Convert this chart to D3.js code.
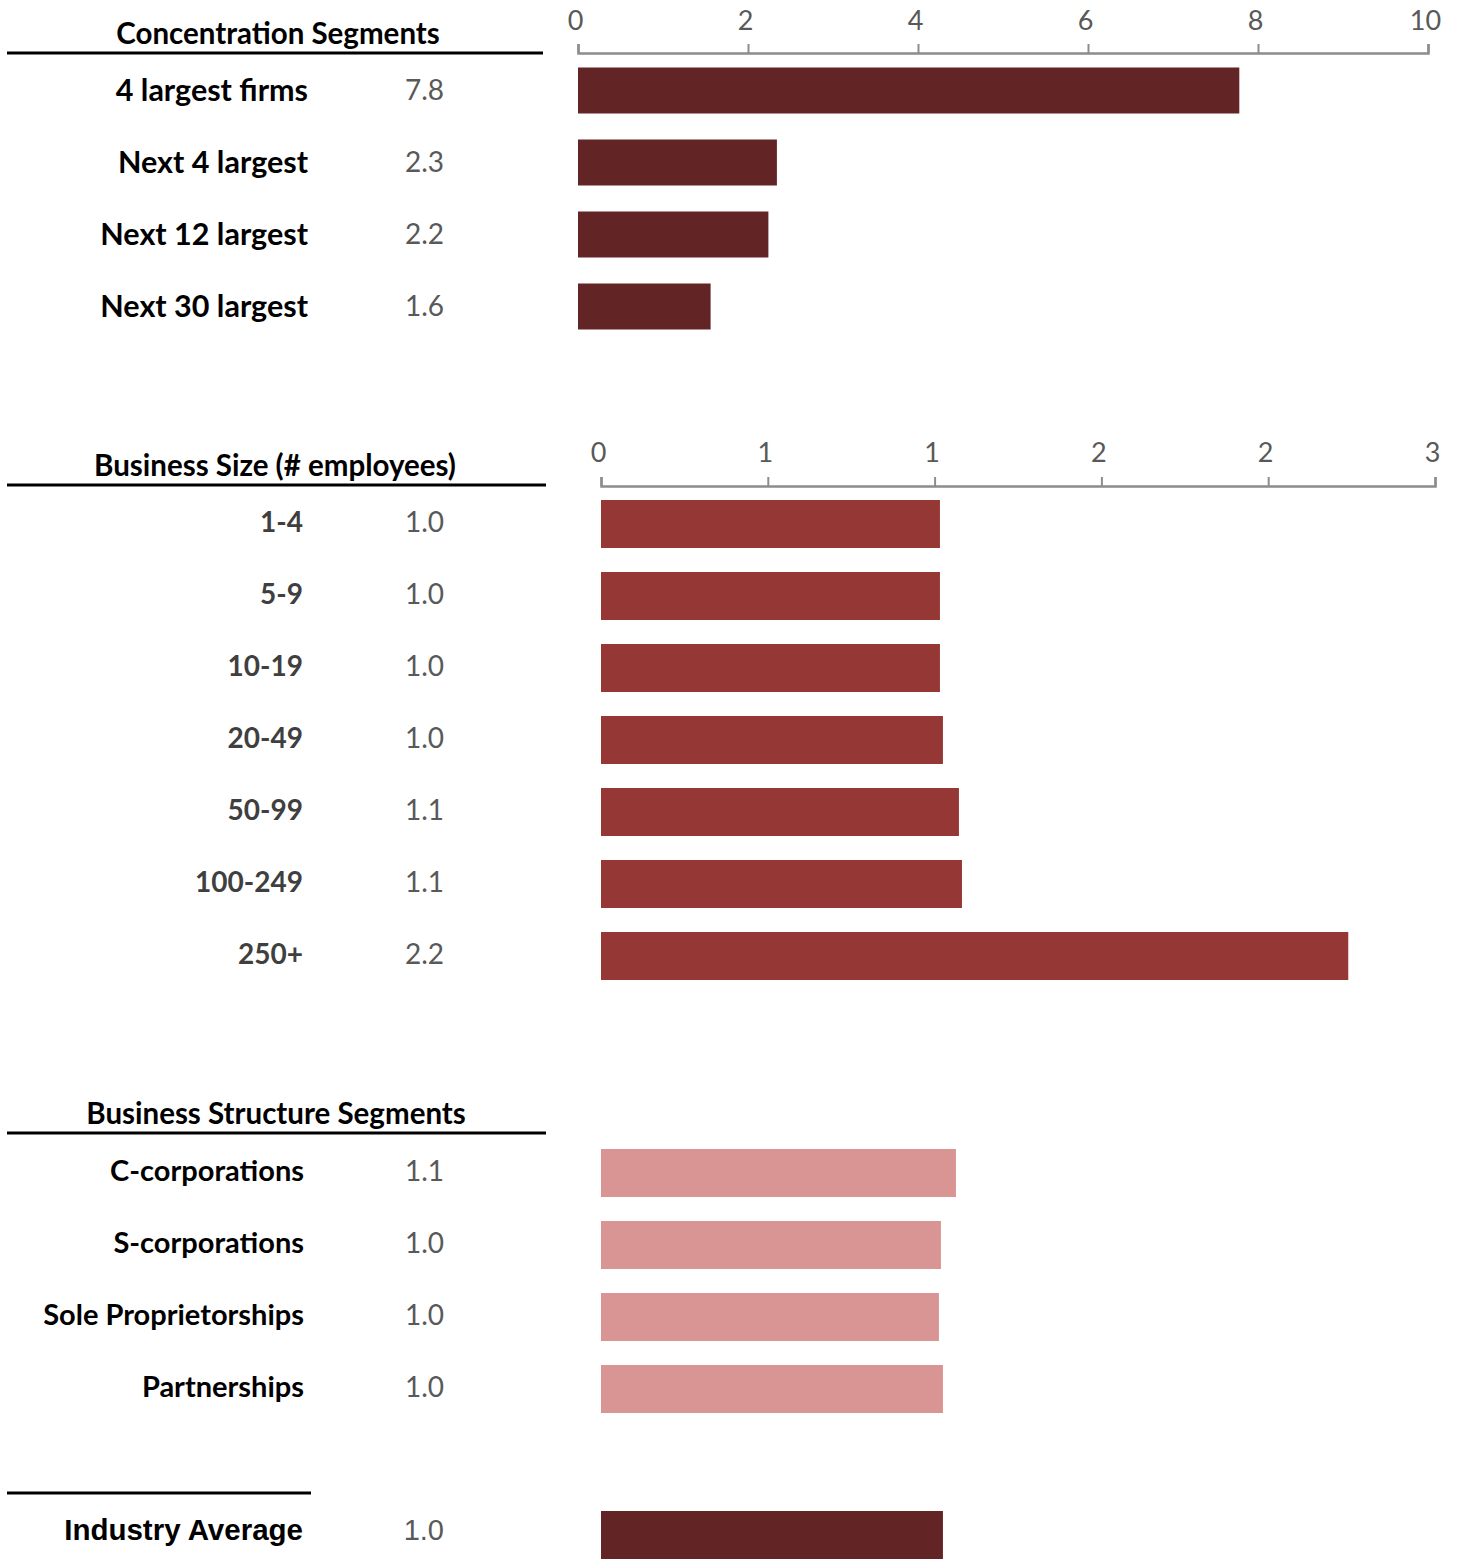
<!DOCTYPE html>
<html>
<head>
<meta charset="utf-8">
<script src="https://cdn.jsdelivr.net/npm/d3@7"></script>
<style>
  body { margin: 0; background: #fff; }
  svg { display: block; }
</style>
</head>
<body>
<svg width="1460" height="1560"></svg>
<script>
// concentration segments
const concCats = ["4 largest firms", "Next 4 largest", "Next 12 largest", "Next 30 largest"];
const concValues = [7.78, 2.34, 2.24, 1.56];
const concTicks = [0, 2, 4, 6, 8, 10];

// business size
const sizeCats = ["1-4", "5-9", "10-19", "20-49", "50-99", "100-249", "250+"];
const sizeValues = [1.016, 1.016, 1.016, 1.025, 1.073, 1.082, 2.24];
const sizeTicks = [0, 0.5, 1, 1.5, 2, 2.5];
const sizeTickLabels = ["0", "1", "1", "2", "2", "3"];

// business structure
const structCats = ["C-corporations", "S-corporations", "Sole Proprietorships", "Partnerships"];
const structValues = [1.064, 1.019, 1.013, 1.025];

const avgCats = ["Industry Average"];
const avgValues = [1.025];

const svg = d3.select("svg");
const fmt = d3.format(".1f");

function axisStyle(g) {
    g.select(".domain").attr("stroke", "#8c8c8c").attr("stroke-width", 2.5)
    g.selectAll(".tick line").attr("stroke", "#8c8c8c").attr("stroke-width", 2)
    g.selectAll(".tick text")
        .attr("fill", "#595959")
        .attr("dx", -3)
        .style("font-family", "Lato, sans-serif")
        .style("font-size", "27px")
}

function drawPanel(opt) {
    const y = d3.scalePoint().domain(opt.cats).range([opt.y0, opt.y0 + (opt.cats.length - 1) * 72])

    if (opt.title) {
        svg.append("text")
            .attr("x", opt.titleX).attr("y", opt.lineY - 9)
            .attr("text-anchor", "middle")
            .style("font-family", "Lato, sans-serif")
            .style("font-weight", "bold")
            .style("font-size", "29.5px")
            .text(opt.title)
    }
    svg.append("line")
        .attr("x1", 7).attr("x2", opt.lineX2)
        .attr("y1", opt.lineY).attr("y2", opt.lineY)
        .attr("stroke", "#000").attr("stroke-width", 3)

    if (opt.axis) {
        svg.append("g")
            .attr("transform", `translate(0,${opt.axisY})`)
            .call(opt.axis)
            .call(axisStyle)
            .select(".domain").raise()
    }

    const row = svg.append("g").selectAll("g")
        .data(opt.cats)
        .join("g")

    row.append("text")
        .attr("x", opt.labelX)
        .attr("y", d => y(d) + opt.textShift)
        .attr("dy", "0.35em")
        .attr("text-anchor", "end")
        .attr("fill", opt.labelColor)
        .style("font-family", opt.font)
        .style("font-weight", "bold")
        .style("font-size", opt.fontSize)
        .text(d => d)

    row.append("text")
        .attr("x", 444)
        .attr("y", d => y(d) + opt.textShift)
        .attr("dy", "0.35em")
        .attr("text-anchor", "end")
        .attr("fill", "#595959")
        .style("font-family", opt.font)
        .style("font-size", opt.valueSize)
        .text((d, i) => fmt(opt.values[i]))

    row.append("rect")
        .attr("x", opt.x(0))
        .attr("y", d => y(d) - opt.barH / 2)
        .attr("width", (d, i) => opt.x(opt.values[i]) - opt.x(0))
        .attr("height", opt.barH)
        .attr("fill", opt.color)
}

const xConc = d3.scaleLinear().domain([0, 10]).range([578, 1428])
const xSize = d3.scaleLinear().domain([0, 2.5]).range([601, 1435])

drawPanel({
    cats: concCats, values: concValues, y0: 90.5, barH: 46, textShift: 0,
    title: "Concentration Segments", titleX: 278, lineY: 53, lineX2: 543,
    x: xConc, axisY: 53,
    axis: d3.axisTop(xConc).tickValues(concTicks).tickSize(9).tickPadding(14),
    labelX: 308, labelColor: "#000", font: "Lato, sans-serif", fontSize: "30.5px", valueSize: "28px",
    color: "#632426"
})

drawPanel({
    cats: sizeCats, values: sizeValues, y0: 524, barH: 48, textShift: -2,
    title: "Business Size (# employees)", titleX: 275, lineY: 485, lineX2: 546,
    x: xSize, axisY: 486,
    axis: d3.axisTop(xSize).tickValues(sizeTicks).tickFormat((d, i) => sizeTickLabels[i]).tickSize(9).tickPadding(15),
    labelX: 303, labelColor: "#3f3f3f", font: "Lato, sans-serif", fontSize: "28px", valueSize: "28px",
    color: "#953735"
})

drawPanel({
    cats: structCats, values: structValues, y0: 1173, barH: 48, textShift: -2,
    title: "Business Structure Segments", titleX: 276, lineY: 1133, lineX2: 546,
    x: xSize,
    labelX: 304, labelColor: "#000", font: "Lato, sans-serif", fontSize: "29px", valueSize: "28px",
    color: "#d99594"
})

drawPanel({
    cats: avgCats, values: avgValues, y0: 1535, barH: 48, textShift: -5,
    lineY: 1493, lineX2: 311,
    x: xSize,
    labelX: 303, labelColor: "#000", font: "'Liberation Sans', Arial, sans-serif", fontSize: "29.5px", valueSize: "29px",
    color: "#632426"
})
</script>
</body>
</html>
